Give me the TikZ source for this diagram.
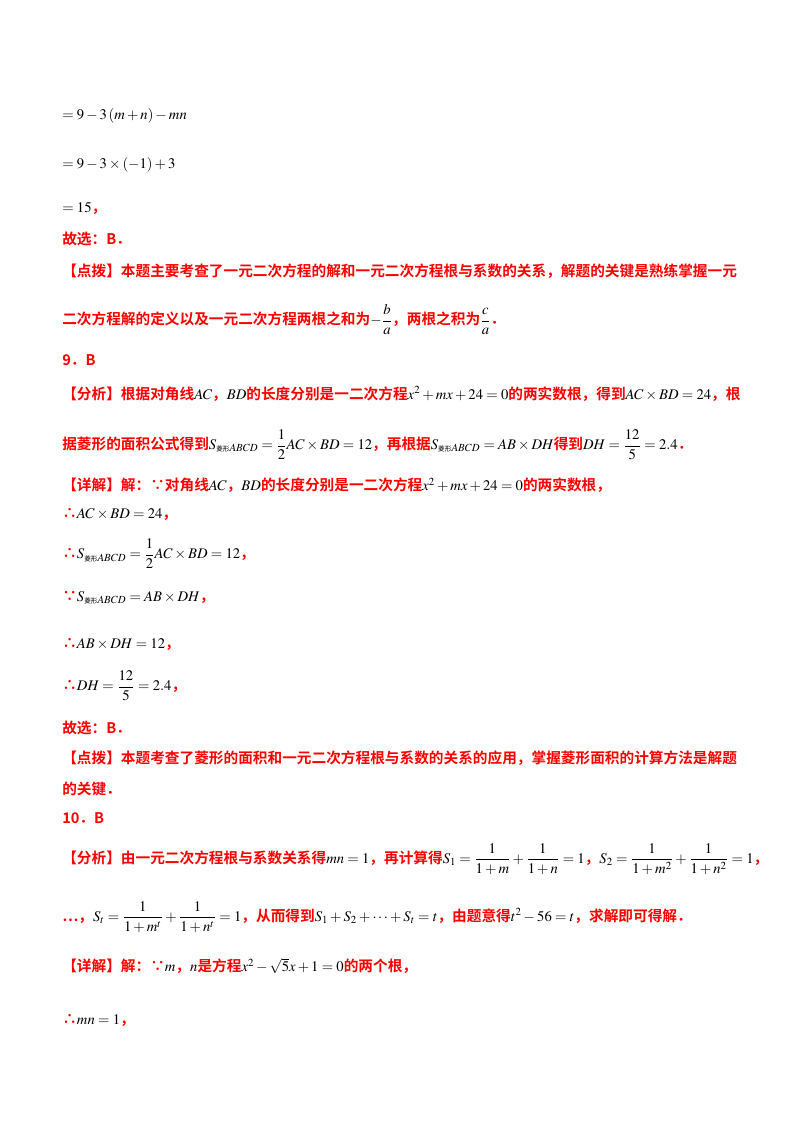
\documentclass[tikz,border=0pt]{standalone}
\usepackage{amsmath}
\usepackage{fontspec}
\usepackage{mathptmx}
\setmainfont{Liberation Serif}
\newfontfamily\cjk{Noto Sans CJK SC}
\newfontfamily\cjkb{Noto Sans CJK SC Bold}
\newcommand{\R}[1]{{\color{red}\cjkb #1}}
\newcommand{\K}[1]{{\cjk #1}}
\begin{document}
\begin{tikzpicture}[x=0.75pt,y=-0.75pt,
  ln/.style={anchor=west,inner sep=0pt,font=\fontsize{11}{13}\selectfont}]
\useasboundingbox (0,0) rectangle (800,1132);
\fill[white] (0,0) rectangle (800,1132);
\node[ln] (l1) at (62,116) {$=9-3\left(m+n\right)-mn$};
\node[ln] (l2) at (62,165) {$=9-3\times\left(-1\right)+3$};
\node[ln] (l3) at (62,208) {$=15$\R{，}};
\node[ln] (l4) at (62,239) {\R{故选：B．}};
\node[ln] (l5) at (62,271) {\R{【点拨】本题主要考查了一元二次方程的解和一元二次方程根与系数的关系，解题的关键是熟练掌握一元}};
\node[ln] (l6) at (62,320) {\R{二次方程解的定义以及一元二次方程两根之和为}$-\dfrac{b}{a}$\R{，两根之积为}$\dfrac{c}{a}$\R{．}};
\node[ln] (l7) at (62,360) {\R{9．B}};
\node[ln] (l8) at (62,394) {\R{【分析】根据对角线}$AC$\R{，}$BD$\R{的长度分别是一二次方程}$x^2+mx+24=0$\R{的两实数根，得到}$AC\times BD=24$\R{，根}};
\node[ln] (l9) at (62,445) {\R{据菱形的面积公式得到}$S_{\text{\K{\tiny 菱形}}ABCD}=\dfrac12AC\times BD=12$\R{，再根据}$S_{\text{\K{\tiny 菱形}}ABCD}=AB\times DH$\R{得到}$DH=\dfrac{12}{5}=2.4$\R{．}};
\node[ln] (l10) at (62,485) {\R{【详解】解：∵对角线}$AC$\R{，}$BD$\R{的长度分别是一二次方程}$x^2+mx+24=0$\R{的两实数根，}};
\node[ln] (l11) at (62,514) {\R{∴}$AC\times BD=24$\R{，}};
\node[ln] (l12) at (62,554) {\R{∴}$S_{\text{\K{\tiny 菱形}}ABCD}=\dfrac12AC\times BD=12$\R{，}};
\node[ln] (l13) at (62,598) {\R{∵}$S_{\text{\K{\tiny 菱形}}ABCD}=AB\times DH$\R{，}};
\node[ln] (l14) at (62,644) {\R{∴}$AB\times DH=12$\R{，}};
\node[ln] (l15) at (62,686) {\R{∴}$DH=\dfrac{12}{5}=2.4$\R{，}};
\node[ln] (l16) at (62,728) {\R{故选：B．}};
\node[ln] (l17) at (62,758) {\R{【点拨】本题考查了菱形的面积和一元二次方程根与系数的关系的应用，掌握菱形面积的计算方法是解题}};
\node[ln] (l18) at (62,789) {\R{的关键．}};
\node[ln] (l19) at (62,818) {\R{10．B}};
\node[ln] (l20) at (62,859) {\R{【分析】由一元二次方程根与系数关系得}$mn=1$\R{，再计算得}$S_1=\dfrac{1}{1+m}+\dfrac{1}{1+n}=1$\R{，}$S_2=\dfrac{1}{1+m^2}+\dfrac{1}{1+n^2}=1$\R{，}};
\node[ln] (l21) at (62,917) {\R{…，}$S_t=\dfrac{1}{1+m^t}+\dfrac{1}{1+n^t}=1$\R{，从而得到}$S_1+S_2+\cdots+S_t=t$\R{，由题意得}$t^2-56=t$\R{，求解即可得解．}};
\node[ln] (l22) at (62,966) {\R{【详解】解：∵}$m$\R{，}$n$\R{是方程}$x^2-\sqrt5x+1=0$\R{的两个根，}};
\node[ln] (l23) at (62,1020) {\R{∴}$mn=1$\R{，}};
\end{tikzpicture}
\end{document}
